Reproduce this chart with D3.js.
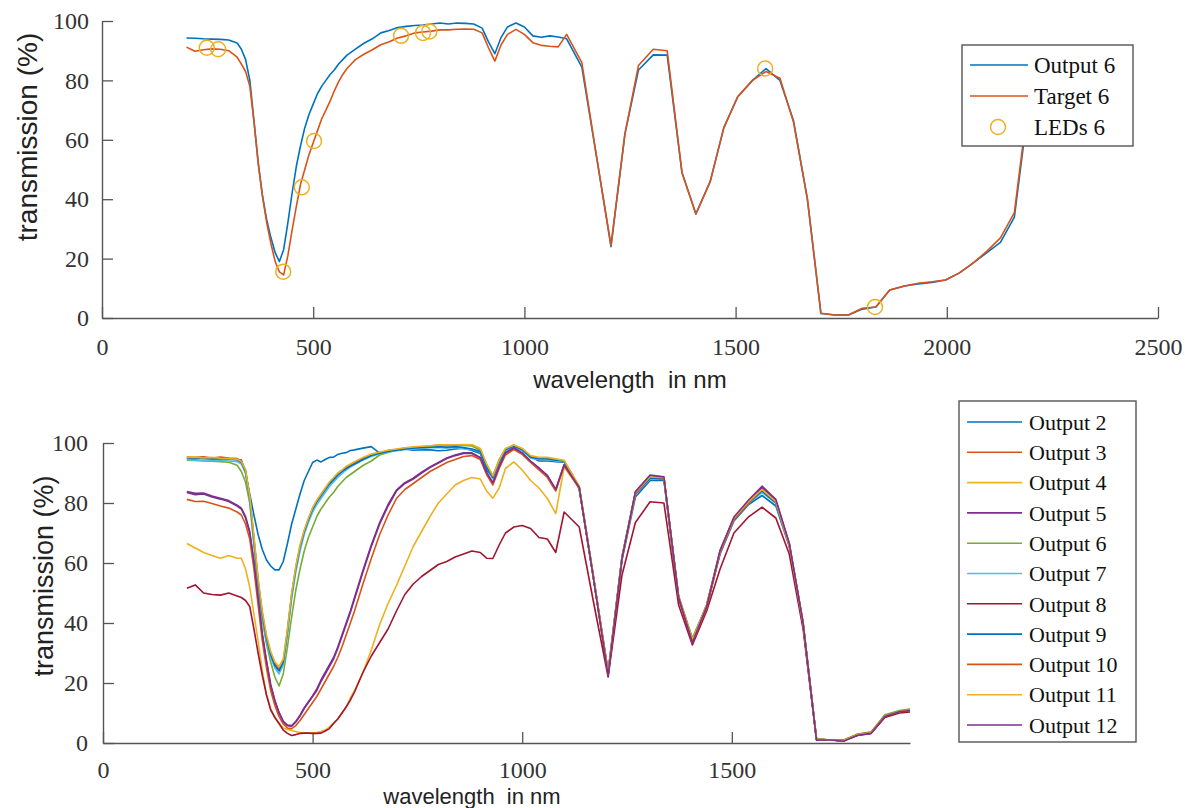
<!DOCTYPE html>
<html>
<head>
<meta charset="utf-8">
<script src="https://cdn.jsdelivr.net/npm/d3@7"></script>
<style>
  body { margin: 0; background: #fff; }
  svg { display: block; }
</style>
</head>
<body>
<svg id="fig" width="1185" height="808"></svg>
<script>
// Sampling grid (nm) shared by all spectra
const wavelengths = [200,220,240,260,280,300,320,330,340,350,360,370,380,390,400,410,420,430,440,450,460,470,480,490,500,510,520,530,540,550,560,570,580,590,600,620,640,660,680,700,720,740,760,780,800,820,840,860,880,900,915,930,945,960,980,1000,1020,1040,1060,1080,1100,1136,1170,1205,1238,1270,1305,1338,1373,1406,1440,1472,1505,1540,1572,1605,1637,1670,1702,1735,1767,1800,1832,1865,1900,1932,1965,1997,2030,2062,2095,2127,2160,2192];

// Upper panel: output / target spectrum 6 and LED positions
const output6 = [94.3,94.2,94.0,93.9,93.8,93.6,92.6,
  90.5,87,80,66,52,41,33,27,22,19,23,32,42,51,58,64,68.5,72,75.5,78,80,82,83.5,85.5,87,88.5,89.5,90.5,
  92.5,94,96,96.8,97.8,98.2,98.5,98.6,99,99.3,99,99.3,99.2,99,97.6,
  93,89,94.5,98,99.3,98,95,94.5,95,94.6,94,
  84.5,55,24,62,83.5,88.6,88.5,49,35,46,64,74.5,80,84,80,66.5,40,1.5,1,1,3,3.7,9.4,10.8,11.5,12,12.8,15.2,18.5,22,25.5,34,70];
const target6 = [91.2,89.8,90.3,90.6,90.5,90,87.8,
  85.5,83,78,66,52,41,32,25,19,15.5,14.5,21,29.5,37.5,45,50,55,59,63,67,70,73,76.5,79.5,82,84,85.5,87,
  88.8,90.3,92,93,94.3,95,96,96.3,96.6,97,97,97.2,97.3,97.2,96,
  91,86.5,92,95.5,97.2,95.5,92.7,91.8,91.5,91.3,95.5,
  86,55,24.5,62,85,90.5,90,49,35,46,64,74.5,80,83,80.7,66,40,1.6,1,1,3.3,3.7,9.4,10.8,11.7,12.2,12.8,15.2,18.5,22.5,27,35.5,72];
const ledWavelengths = [248,275,429,473,502,708,760,775,1570,1830];
const ledValues = [91,90.5,15.6,44,59.6,95,96,96.5,84,3.7];

// Lower panel: outputs 2-12 (values up to 1932 nm)
const output2 = [95,95,94.8,94.8,95,94.8,94.5,
  94.3,90,83,76,69.5,64.5,61,59,57.7,57.7,60.5,66.5,73,78,83,87.5,90.5,93.5,94.3,93.7,94.5,95.2,95.3,96.2,96.6,96.8,97.5,97.7,
  98.3,98.8,96.6,97.5,97.7,98,97.6,97.8,97.7,97.4,97.6,98,98.3,97.5,96.5,
  91,88.5,93.5,97.5,98.8,97.5,95.5,94,94,93.8,93.6,
  85,55,23,61,82,87.5,87.5,48,34.5,45.5,63,74,79.5,82.5,79,65.5,39,1.2,1,0.8,2.7,3.3,8.7,10.3,10.8];
const output3 = [95.3,95.2,95.4,95,95.3,95,94.8,
  94,91,82,68,54,43,35,30,26.5,24.5,27,37,49,58,65,70.5,74.5,78,80.5,82.5,84.5,86.5,88,89.5,90.5,91.8,92.5,93.3,
  94.8,96,96.8,97.4,97.8,98.2,98.5,98.7,99,99.2,99.3,99.3,99.4,99.3,98,
  92.5,88.5,94,98,99.2,98,95.5,95,95,94.5,94,
  85.5,55.5,23.5,62,83.5,89,88.5,49,34,46,64,75,80.5,84.5,80.5,66,40,1.3,1,0.8,2.8,3.4,9,10.5,11];
const output4 = [66.5,65,63.5,62.5,61.6,62.5,61.6,
  61.6,58,52,43,34,24,16,11.5,8.5,6.5,5,4.5,4.2,3.8,3.5,3.4,3.3,3.3,3.5,3.8,4.3,5.3,6.7,8,10,12,15,17.5,
  23.5,31,39.5,46.5,52.5,59,65.5,70.5,75.5,80,83,86,87.5,88.5,88,
  84,81.6,85,91.5,93.7,91,87.5,85,81.5,76.5,92,
  85,55,23,61.5,83,88.5,88,48.5,34,45.5,63.5,74.5,80,84,80,66,39.5,1.2,1,0.8,2.8,3.4,9,10.5,11];
const output5 = [83.5,82.8,83,82,81.3,80.5,79,
  78,75,70,60,48,36,27,19,14,10,7,5.8,5.6,7,9,11.5,13.5,15.5,17.5,20.5,23,25.5,28,31.5,35.5,39.5,43.5,48,
  57,65.5,73,79,84,86.5,88,90,91.8,93.3,94.8,95.8,96.5,96.5,95,
  90,86.5,92,96.5,98.2,96.5,93.8,91.5,89,84.3,92.7,
  85,55,23,61.5,83.5,89,88.5,48.5,34,45.5,64,75,80.5,85.2,81,66.5,40,1.2,1,0.8,2.8,3.4,9,10.5,11];
const output6b = output6.slice(0, 86);
const output7 = [94.5,94.3,94.2,94.3,94.2,94.0,93.8,
  93,90,81,67,53,42,34,28.5,25,23,26,36,48,57,64,69.5,73.5,77,79.5,81.5,83.5,85.5,87,88.5,89.8,91,92,92.8,
  94.3,95.5,96.4,97,97.4,97.8,98,98.2,98.4,98.5,98.3,98.5,98,97.8,97,
  92,88,93.5,97.5,98.7,97.5,95,94.5,94.5,94,93.8,
  85,55,23.5,61.5,83,88,88,48.5,34.5,45.5,63.5,74.5,80,83.5,80,66,39.5,1.2,1,0.8,2.8,3.4,9,10.5,11];
const output8 = [51.6,52.7,50,49.5,49.3,50,49,
  48.5,47.5,45.5,38,30,22.5,16,11,8.5,6.5,4.3,3.2,2.5,2.8,3.2,3.3,3.3,3.2,3.2,3.3,4,4.8,6.5,8,10,12,14.3,17,
  23.5,29,33.5,38,44,49.5,53,55.5,57.5,59.5,60.5,62,63,64,63.5,
  61.6,61.5,66,70,72,72.5,71.5,68.5,68,63.5,77,
  72,47,22,56,73.5,80.4,80,46,32.7,44,58,70,75.4,78.6,75,63,38,1,1,0.8,2.5,3.2,8.5,10,10.5];
const output9 = [95,94.8,95,94.7,94.8,94.6,94.4,
  93.5,90.5,82,68,54,43,35,29.5,25.8,24,27,37.5,49.5,58.5,65.5,70.5,74.5,78,80.5,82.5,84.5,86.3,87.8,89.3,90.5,91.5,92.3,93,
  94.5,95.8,96.6,97.2,97.6,98,98.3,98.5,98.6,98.8,98.6,98.8,98.5,98,97.2,
  92,88.5,93.8,97.8,99,97.8,95.3,94.8,94.8,94.3,94,
  85,55,23.5,62,83,88.3,88,48.5,34.5,46,63.5,74.5,80,84,80,66,39.5,1.2,1,0.8,2.8,3.4,9,10.5,11];
const output10 = [81.2,80.5,80.6,79.8,79,78.3,77,
  76,73,68,58,46,34,25,17.5,12.5,8.8,6.3,5,4.8,5.8,7.5,9.5,11.5,13.5,15.5,18,20.5,23,25.5,28.5,32,36,40,44,
  53,61.5,69.5,76,81.5,84.5,86.5,88.5,90.5,92,93.5,94.5,95.5,95.8,94.5,
  89.5,86,91.5,96,97.8,96.2,93.5,91,88.5,84,92.5,
  85,55,23,61.5,83,88.8,88.3,48.5,33.5,45,63.5,74.5,80,84.5,80.5,66,39.5,1.2,1,0.8,2.8,3.4,9,10.5,11];
const output11 = [95.2,95.3,95,95.2,94.9,94.8,94.6,
  93.8,91,82.5,69,55,44,36,30.5,27,25.5,28,38,50,59,66,71,75,78.5,81,83,85,87,88.5,90,91,92.2,93,93.8,
  95.2,96.3,97,97.6,98,98.4,98.7,98.9,99.1,99.3,99.4,99.4,99.5,99.4,98.2,
  93,89,94.3,98.2,99.3,98.2,95.8,95.2,95.2,94.7,94.2,
  85.5,55.5,23.5,62,83.5,88.8,88.5,49,34.5,46,64,75,80.5,84.5,80.5,66,40,1.3,1,0.8,2.8,3.4,9,10.5,11];
const output12 = [83.8,83.2,83.3,82.3,81.6,80.8,79.3,
  78.3,75.5,70.5,60.5,48.5,36.5,27.5,19.5,14.2,10.2,7.2,6,5.8,7.2,9.3,11.8,13.8,15.8,18,21,23.5,26,28.5,32,36,40,44,48.5,
  57.5,66,73.5,79.5,84.3,86.8,88.3,90.3,92,93.5,95,96,96.7,96.7,95.2,
  90.2,86.8,92.2,96.8,98.4,96.7,94,91.7,89.2,84.6,92.8,
  85.2,55,22.5,61.5,83.8,89.3,88.7,48.5,33.5,45.5,64.2,75.3,81,85.6,81.2,66.5,40,1,1,0.6,2.6,3.2,8.8,10.4,10.9];

const lowerNames = ["Output 2","Output 3","Output 4","Output 5","Output 6","Output 7","Output 8","Output 9","Output 10","Output 11","Output 12"];
const lowerSeries = [output2, output3, output4, output5, output6b, output7, output8, output9, output10, output11, output12];
const palette = ["#0072BD","#D95319","#EDB120","#7E2F8E","#77AC30","#4DBEEE","#A2142F"];

const yTicks = [0,20,40,60,80,100];
const xTicksTop = [0,500,1000,1500,2000,2500];
const xTicksBottom = [0,500,1000,1500];

const serif = "'Liberation Serif','Times New Roman',serif";
const sans = "'Liberation Sans',Arial,sans-serif";
const axisColor = "#555";

const svg = d3.select("#fig");

function styleAxis(g, fontSize) {
  g.select(".domain").attr("stroke", axisColor).attr("stroke-width", 1.4);
  g.selectAll(".tick line").attr("stroke", axisColor).attr("stroke-width", 1.3);
  g.selectAll(".tick text")
    .attr("fill", "#333")
    .style("font-family", serif)
    .style("font-size", fontSize + "px");
}

function drawAxes(x, y, xTicks, opts) {
  const gx = svg.append("g")
    .attr("transform", `translate(0,${y(0)})`)
    .call(d3.axisBottom(x).tickValues(xTicks).tickFormat(d3.format("d"))
      .tickSizeInner(-11).tickSizeOuter(0).tickPadding(opts.xPad));
  styleAxis(gx, opts.font);
  const gy = svg.append("g")
    .attr("transform", `translate(${x(0)},0)`)
    .call(d3.axisLeft(y).tickValues(yTicks).tickFormat(d3.format("d"))
      .tickSizeInner(-11).tickSizeOuter(0).tickPadding(opts.yPad));
  styleAxis(gy, opts.font);
}

// ---------- Upper panel ----------
const xTop = d3.scaleLinear().domain([0, 2500]).range([102, 1158]);
const yTop = d3.scaleLinear().domain([0, 100]).range([318, 21]);

drawAxes(xTop, yTop, xTicksTop, { xPad: 20, yPad: 13, font: 24 });

const lineTop = d3.line()
  .x((d, i) => xTop(wavelengths[i]))
  .y(d => yTop(d));

svg.append("path").datum(output6)
  .attr("d", lineTop).attr("fill", "none")
  .attr("stroke", palette[0]).attr("stroke-width", 1.6).attr("stroke-linejoin", "round");
svg.append("path").datum(target6)
  .attr("d", lineTop).attr("fill", "none")
  .attr("stroke", palette[1]).attr("stroke-width", 1.6).attr("stroke-linejoin", "round");

svg.append("g").selectAll("circle")
  .data(ledWavelengths.map((w, i) => [w, ledValues[i]]))
  .join("circle")
  .attr("cx", d => xTop(d[0]))
  .attr("cy", d => yTop(d[1]))
  .attr("r", 7.5)
  .attr("fill", "none")
  .attr("stroke", palette[2])
  .attr("stroke-width", 1.5);

svg.append("text")
  .attr("transform", "translate(37,137) rotate(-90)")
  .attr("text-anchor", "middle")
  .style("font-family", sans).style("font-size", "28px").attr("fill", "#222")
  .text("transmission (%)");
svg.append("text")
  .attr("x", 630).attr("y", 388)
  .attr("text-anchor", "middle")
  .style("font-family", sans).style("font-size", "24px").attr("fill", "#222")
  .text("wavelength\u00A0\u00A0in nm");

// legend, upper panel
const legTop = svg.append("g");
legTop.append("rect").attr("x", 962).attr("y", 45).attr("width", 171).attr("height", 101)
  .attr("fill", "#fff").attr("stroke", axisColor).attr("stroke-width", 1.4);
const topItems = [
  { label: "Output 6", color: palette[0], kind: "line" },
  { label: "Target 6", color: palette[1], kind: "line" },
  { label: "LEDs 6", color: palette[2], kind: "circle" }
];
topItems.forEach((it, i) => {
  const cy = 65 + i * 31;
  if (it.kind === "line") {
    legTop.append("line").attr("x1", 970).attr("x2", 1028).attr("y1", cy).attr("y2", cy)
      .attr("stroke", it.color).attr("stroke-width", 1.6);
  } else {
    legTop.append("circle").attr("cx", 998).attr("cy", cy).attr("r", 7.5)
      .attr("fill", "none").attr("stroke", it.color).attr("stroke-width", 1.5);
  }
  legTop.append("text").attr("x", 1034).attr("y", cy).attr("dy", "0.35em")
    .style("font-family", serif).style("font-size", "23px").attr("fill", "#111")
    .text(it.label);
});

// ---------- Lower panel ----------
const xBot = d3.scaleLinear().domain([0, 1925]).range([103, 910]);
const yBot = d3.scaleLinear().domain([0, 100]).range([743, 443]);

drawAxes(xBot, yBot, xTicksBottom, { xPad: 18, yPad: 15, font: 24 });

svg.append("clipPath").attr("id", "clipLower")
  .append("rect").attr("x", 103).attr("y", 420).attr("width", 807).attr("height", 330);

const lineBot = d3.line()
  .x((d, i) => xBot(wavelengths[i]))
  .y(d => yBot(d));

svg.append("g").attr("clip-path", "url(#clipLower)")
  .selectAll("path")
  .data(lowerSeries)
  .join("path")
  .attr("d", lineBot)
  .attr("fill", "none")
  .attr("stroke", (d, i) => palette[i % palette.length])
  .attr("stroke-width", 1.6)
  .attr("stroke-linejoin", "round");

svg.append("text")
  .attr("transform", "translate(53,576) rotate(-90)")
  .attr("text-anchor", "middle")
  .style("font-family", sans).style("font-size", "27px").attr("fill", "#222")
  .text("transmission (%)");
svg.append("text")
  .attr("x", 472).attr("y", 804)
  .attr("text-anchor", "middle")
  .style("font-family", sans).style("font-size", "22px").attr("fill", "#222")
  .text("wavelength\u00A0\u00A0in nm");

// legend, lower panel
const legBot = svg.append("g");
legBot.append("rect").attr("x", 959).attr("y", 401).attr("width", 177).attr("height", 341)
  .attr("fill", "#fff").attr("stroke", axisColor).attr("stroke-width", 1.4);
lowerNames.forEach((name, i) => {
  const cy = 422 + i * 30.3;
  legBot.append("line").attr("x1", 967).attr("x2", 1022).attr("y1", cy).attr("y2", cy)
    .attr("stroke", palette[i % palette.length]).attr("stroke-width", 1.6);
  legBot.append("text").attr("x", 1029).attr("y", cy).attr("dy", "0.35em")
    .style("font-family", serif).style("font-size", "22px").attr("fill", "#111")
    .text(name);
});
</script>
</body>
</html>
